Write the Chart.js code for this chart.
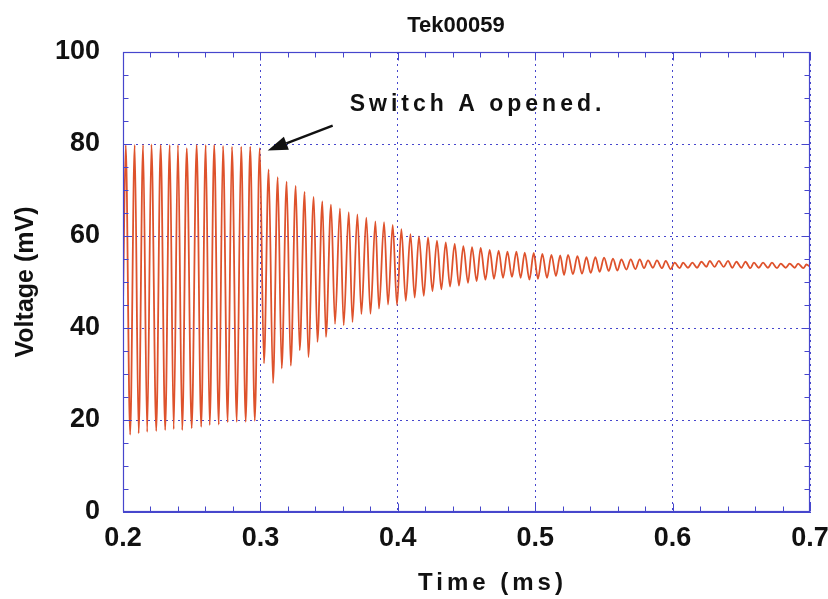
<!DOCTYPE html>
<html>
<head>
<meta charset="utf-8">
<title>Tek00059</title>
<script src="https://cdn.jsdelivr.net/npm/chart.js@4/dist/chart.umd.min.js"></script>
<style>
    html, body { margin: 0; padding: 0; background: #fff; }
    #wrap { width: 828px; height: 599px; }
</style>
</head>
<body>
<div id="wrap"><canvas id="myChart" width="828" height="599"></canvas></div>
<script>
const chartTitle = 'Tek00059';
const xAxisTitle = 'Time (ms)';
const yAxisTitle = 'Voltage (mV)';
const noteText = 'Switch A opened.';

const xTicks = [0.2, 0.3, 0.4, 0.5, 0.6, 0.7];
const yTicks = [0, 20, 40, 60, 80, 100];

// driven oscillation, 0.2 - 0.3 ms (peaks and troughs)
const drivenTime = [0.2000, 0.2020, 0.2052, 0.2085, 0.2114, 0.2146, 0.2176, 0.2207, 0.2242, 0.2274,
    0.2307, 0.2340, 0.2369, 0.2400, 0.2431, 0.2464, 0.2500, 0.2536, 0.2569, 0.2602,
    0.2631, 0.2664, 0.2697, 0.2728, 0.2762, 0.2793, 0.2828, 0.2860, 0.2893, 0.2926,
    0.2959, 0.2995];
const drivenVoltage = [45, 79.8, 16.8, 79.8, 17.1, 79.8, 17.4, 79.9, 17.6, 79.8,
    17.8, 79.8, 18.0, 79.8, 17.8, 79.1, 18.2, 79.8, 18.5, 79.8,
    18.9, 79.8, 19.0, 79.6, 19.5, 79.4, 19.6, 79.4, 19.6, 79.4,
    19.8, 79.1];

// ring-down after the switch, 0.3 - 0.52 ms
const ringTime = [0.3026, 0.3060, 0.3092, 0.3126, 0.3155, 0.3191, 0.3221, 0.3257, 0.3286, 0.3322,
    0.3349, 0.3388, 0.3415, 0.3451, 0.3477, 0.3514, 0.3543, 0.3579, 0.3606, 0.3643,
    0.3670, 0.3706, 0.3735, 0.3771, 0.3801, 0.3837, 0.3863, 0.3900, 0.3929, 0.3963,
    0.3994, 0.4026, 0.4058, 0.4092, 0.4123, 0.4154, 0.4189, 0.4220, 0.4252, 0.4285,
    0.4317, 0.4349, 0.4380, 0.4414, 0.4445, 0.4477, 0.4511, 0.4540, 0.4574, 0.4603,
    0.4638, 0.4669, 0.4700, 0.4734, 0.4766, 0.4798, 0.4831, 0.4863, 0.4894, 0.4924,
    0.4958, 0.4989, 0.5020, 0.5052, 0.5086, 0.5118, 0.5151, 0.5182];
const ringVoltage = [32.3, 74.5, 28.0, 72.8, 31.2, 71.8, 31.8, 70.9, 35.2, 69.6,
    33.7, 68.5, 37.0, 67.5, 38.1, 66.8, 40.9, 66.0, 40.6, 65.2,
    41.3, 64.7, 43.0, 64.0, 43.1, 63.2, 44.2, 63.0, 45.1, 62.4,
    45.0, 61.5, 45.9, 60.4, 46.6, 59.9, 47.0, 59.7, 48.0, 59.0,
    48.4, 58.6, 49.0, 58.3, 49.2, 57.8, 49.8, 57.6, 50.2, 57.4,
    50.5, 57.0, 50.7, 56.8, 50.9, 56.6, 51.1, 56.6, 50.9, 56.4,
    50.5, 56.3, 50.7, 56.1, 50.9, 55.9, 51.3, 55.8];

// settling tail, 0.52 - 0.7 ms
const tailTime = [0.5210, 0.5239, 0.5275, 0.5307, 0.5341, 0.5373, 0.5404, 0.5438, 0.5469, 0.5501,
    0.5535, 0.5566, 0.5598, 0.5627, 0.5664, 0.5695, 0.5729, 0.5761, 0.5792, 0.5821,
    0.5857, 0.5886, 0.5923, 0.5950, 0.5986, 0.6015, 0.6052, 0.6076, 0.6112, 0.6144,
    0.6178, 0.6210, 0.6246, 0.6270, 0.6306, 0.6336, 0.6372, 0.6403, 0.6435, 0.6464,
    0.6501, 0.6530, 0.6566, 0.6592, 0.6627, 0.6658, 0.6694, 0.6723, 0.6760, 0.6787,
    0.6823, 0.6852, 0.6889, 0.6913, 0.6952, 0.6974, 0.7000];
const tailVoltage = [51.5, 55.9, 51.7, 55.6, 51.8, 55.4, 52.0, 55.4, 52.2, 55.3,
    52.4, 55.1, 52.5, 54.9, 52.7, 54.9, 52.8, 54.9, 53.0, 54.7,
    53.1, 54.7, 53.0, 54.6, 52.8, 54.2, 53.0, 54.2, 53.1, 54.2,
    53.1, 54.4, 53.3, 54.6, 53.3, 54.6, 53.3, 54.6, 53.1, 54.4,
    53.1, 54.4, 53.0, 54.2, 53.1, 54.2, 53.1, 54.2, 53.0, 54.0,
    53.1, 54.0, 53.1, 54.0, 53.0, 53.8, 53.3];

// note position in data units
const arrowTip = [0.3053, 78.6];
const arrowTail = [0.3526, 84.0];
const noteAt = [0.365, 87.1];

const FONT = "'Liberation Sans', Arial, Helvetica, sans-serif";
const BLUE = 'rgb(70, 70, 205)';
const TRACE = 'rgb(222, 82, 44)';
const INK = '#111';

const main = () => {
    createChart();
};

/**
 * Join time and voltage lists into {x, y} points.
 * @param {Array<number>} times
 * @param {Array<number>} values
 */
const toPoints = (times, values) => times.map((t, i) => ({ x: t, y: values[i] }));

/**
 * Frame, inward ticks, title, x title and the note.
 */
const decorPlugin = {
    id: 'decor',
    afterDatasetsDraw: (chart) => {
        const ctx = chart.ctx;
        const area = chart.chartArea;
        const xScale = chart.scales.x;
        const yScale = chart.scales.y;

        ctx.save();
        ctx.strokeStyle = BLUE;
        ctx.lineWidth = 1.2;
        const l = Math.round(area.left) + 0.5;
        const r = Math.round(area.right) - 0.5;
        const t = Math.round(area.top) + 0.5;
        const b = Math.round(area.bottom) - 0.5;
        ctx.strokeRect(l, t, r - l, b - t);

        ctx.lineWidth = 1;
        ctx.beginPath();
        for (let i = 0; i <= 25; i++) {
            const x = Math.round(xScale.getPixelForValue(0.2 + i * 0.02)) + 0.5;
            const len = i % 5 === 0 ? 8 : 5;
            ctx.moveTo(x, b);
            ctx.lineTo(x, b - len);
            ctx.moveTo(x, t);
            ctx.lineTo(x, t + len);
        }
        for (let i = 0; i <= 20; i++) {
            const y = Math.round(yScale.getPixelForValue(i * 5)) + 0.5;
            const len = i % 4 === 0 ? 8 : 5;
            ctx.moveTo(l, y);
            ctx.lineTo(l + len, y);
            ctx.moveTo(r, y);
            ctx.lineTo(r - len, y);
        }
        ctx.stroke();

        // arrow
        const tip = { x: xScale.getPixelForValue(arrowTip[0]), y: yScale.getPixelForValue(arrowTip[1]) };
        const tail = { x: xScale.getPixelForValue(arrowTail[0]), y: yScale.getPixelForValue(arrowTail[1]) };
        const ang = Math.atan2(tip.y - tail.y, tip.x - tail.x);
        const headLen = 20;
        const headW = 7;
        const bx = tip.x - headLen * Math.cos(ang);
        const by = tip.y - headLen * Math.sin(ang);
        ctx.strokeStyle = INK;
        ctx.fillStyle = INK;
        ctx.lineWidth = 2.5;
        ctx.beginPath();
        ctx.moveTo(tail.x, tail.y);
        ctx.lineTo(bx, by);
        ctx.stroke();
        ctx.beginPath();
        ctx.moveTo(tip.x, tip.y);
        ctx.lineTo(bx - headW * Math.sin(ang), by + headW * Math.cos(ang));
        ctx.lineTo(bx + headW * Math.sin(ang), by - headW * Math.cos(ang));
        ctx.closePath();
        ctx.fill();

        // texts
        ctx.textBaseline = 'alphabetic';
        ctx.font = `bold 23px ${FONT}`;
        ctx.letterSpacing = '4px';
        ctx.textAlign = 'left';
        ctx.fillText(noteText, xScale.getPixelForValue(noteAt[0]), yScale.getPixelForValue(noteAt[1]));

        ctx.font = `bold 24px ${FONT}`;
        ctx.letterSpacing = '4px';
        ctx.fillText(xAxisTitle, 418, 590);

        ctx.font = `bold 22px ${FONT}`;
        ctx.letterSpacing = '0px';
        ctx.textAlign = 'center';
        ctx.fillText(chartTitle, 456, 32);
        ctx.restore();
    },
};

/**
 * Build the chart.
 */
const createChart = () => {
    const points = [
        ...toPoints(drivenTime, drivenVoltage),
        ...toPoints(ringTime, ringVoltage),
        ...toPoints(tailTime, tailVoltage),
    ];

    const tickFont = { family: FONT, size: 27, weight: 'bold' };

    const config = {
        type: 'line',
        data: {
            datasets: [
                {
                    label: chartTitle,
                    data: points,
                    borderColor: TRACE,
                    backgroundColor: TRACE,
                    borderWidth: 1.8,
                    pointRadius: 0,
                    cubicInterpolationMode: 'monotone',
                    fill: false,
                },
            ],
        },
        options: {
            responsive: false,
            animation: false,
            devicePixelRatio: 1,
            layout: { padding: { top: 52, right: 18, left: 0, bottom: 0 } },
            plugins: {
                legend: { display: false },
                title: { display: false },
                tooltip: { enabled: false },
            },
            scales: {
                x: {
                    type: 'linear',
                    min: xTicks[0],
                    max: xTicks[xTicks.length - 1],
                    afterBuildTicks: (scale) => {
                        scale.ticks = xTicks.map((v) => ({ value: v }));
                    },
                    afterFit: (scale) => {
                        scale.height = 87;
                        scale.paddingLeft = 0;
                        scale.paddingRight = 0;
                    },
                    ticks: {
                        font: tickFont,
                        color: INK,
                        padding: 10,
                        maxRotation: 0,
                        callback: (v) => v.toFixed(1),
                    },
                    grid: { color: BLUE, lineWidth: 1, drawTicks: false },
                    border: { display: true, color: BLUE, width: 1, dash: [2, 4] },
                },
                y: {
                    type: 'linear',
                    min: yTicks[0],
                    max: yTicks[yTicks.length - 1],
                    afterBuildTicks: (scale) => {
                        scale.ticks = yTicks.map((v) => ({ value: v }));
                    },
                    afterFit: (scale) => {
                        scale.width = 123;
                    },
                    ticks: {
                        font: tickFont,
                        color: INK,
                        padding: 23,
                        callback: (v) => String(v),
                    },
                    grid: { color: BLUE, lineWidth: 1, drawTicks: false },
                    border: { display: true, color: BLUE, width: 1, dash: [2, 4] },
                    title: {
                        display: true,
                        text: yAxisTitle,
                        color: INK,
                        font: { family: FONT, size: 25, weight: 'bold' },
                        padding: { top: 11, bottom: 0 },
                    },
                },
            },
        },
        plugins: [decorPlugin],
    };

    return new Chart(document.getElementById('myChart'), config);
};

main();
</script>
</body>
</html>
